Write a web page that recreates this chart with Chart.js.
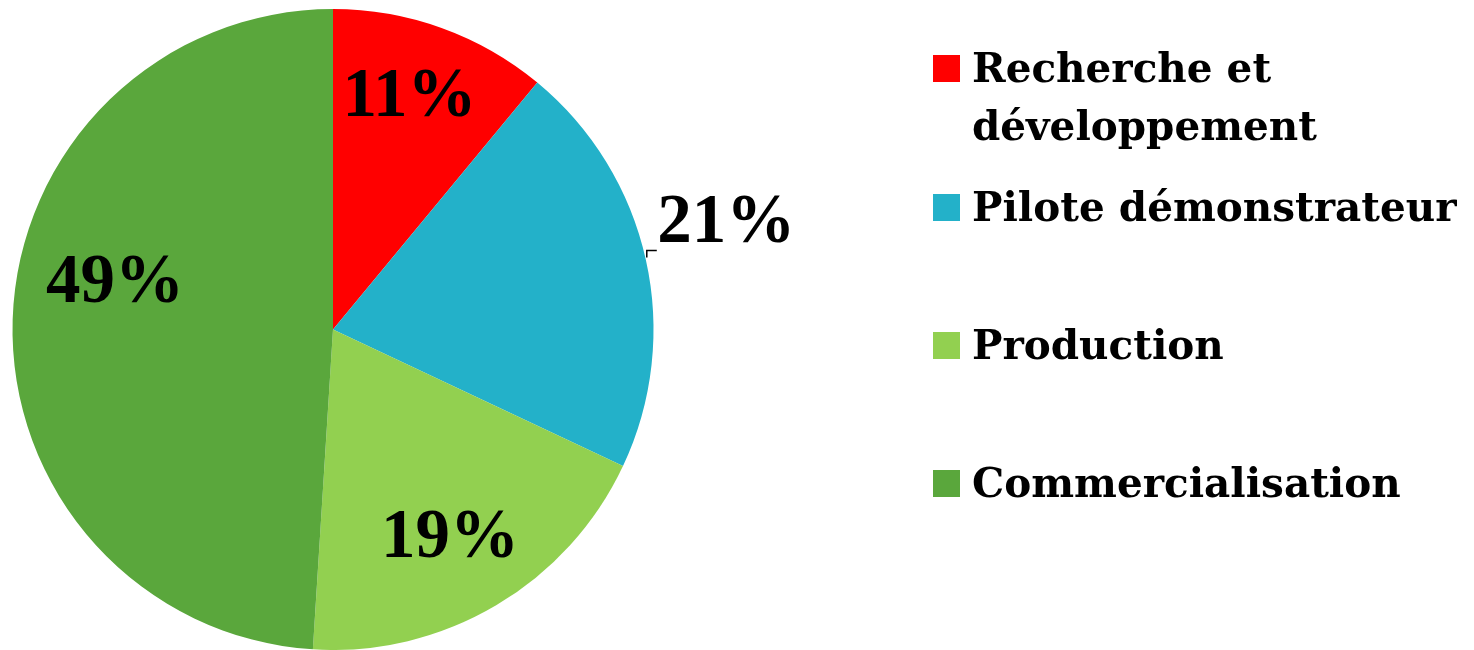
<!DOCTYPE html>
<html lang="fr">
<head>
<meta charset="utf-8">
<title>Répartition par phase</title>
<script src="https://cdn.jsdelivr.net/npm/chart.js@4"></script>
<style>
  html, body { margin: 0; padding: 0; background: #fff; }
  .wrap { position: relative; width: 1474px; height: 650px; }
  .legend { position: absolute; left: 933px; top: 0; list-style: none; margin: 0; padding: 0;
            font-family: "DejaVu Serif", "Liberation Serif", serif; font-weight: bold; font-size: 40.5px; color: #000; }
  .legend li { position: absolute; left: 0; display: flex; align-items: flex-start; white-space: nowrap; line-height: 58px; }
  .legend .box { width: 27px; height: 27px; margin-top: 16px; margin-right: 12px; flex: none; }
</style>
</head>
<body>
<div class="wrap">
  <canvas id="pie" width="1474" height="650"></canvas>
  <ul class="legend" id="legend"></ul>
</div>
<script>
/* Données du graphique */
const categories = ['Recherche et développement', 'Pilote démonstrateur', 'Production', 'Commercialisation'];
const legendLines = [['Recherche et', 'développement'], ['Pilote démonstrateur'], ['Production'], ['Commercialisation']];
const shares = [11, 21, 19, 49];
const colors = ['#ff0000', '#23b1c9', '#92d050', '#5aa73c'];

/* Placement des étiquettes (fraction du rayon, décalage angulaire en degrés) */
const labelPlace = [
  { frac: 0.76, deg: -1.5 },
  { frac: 1.27, deg: -2.4, leader: true },
  { frac: 0.75, deg: 1.5 },
  { frac: 0.695, deg: 10 }
];

/* Étiquettes de pourcentage dessinées sur le canvas */
const pctLabels = {
  id: 'pctLabels',
  afterDatasetsDraw(chart) {
    const { ctx } = chart;
    const meta = chart.getDatasetMeta(0);
    ctx.save();
    ctx.font = 'bold 69px "Liberation Serif", "DejaVu Serif", serif';
    ctx.fillStyle = '#000';
    ctx.textAlign = 'center';
    ctx.textBaseline = 'middle';
    meta.data.forEach((arc, i) => {
      const p = labelPlace[i];
      const mid = (arc.startAngle + arc.endAngle) / 2 + p.deg * Math.PI / 180;
      const r = arc.outerRadius * p.frac;
      const x = arc.x + Math.cos(mid) * r;
      const y = arc.y + Math.sin(mid) * r;
      ctx.fillText(shares[i] + '%', x, y);
      if (p.leader) {
        // petit trait de rappel
        const am = (arc.startAngle + arc.endAngle) / 2;
        const ex = arc.x + Math.cos(am) * arc.outerRadius;
        const ey = arc.y + Math.sin(am) * arc.outerRadius;
        ctx.beginPath();
        ctx.lineWidth = 1.5;
        ctx.strokeStyle = '#000';
        ctx.moveTo(ex + 1, ey - 2);
        ctx.lineTo(ex + 1, ey - 9);
        ctx.lineTo(ex + 11, ey - 9);
        ctx.stroke();
      }
    });
    ctx.restore();
  }
};

new Chart(document.getElementById('pie'), {
  type: 'pie',
  data: {
    labels: categories,
    datasets: [{ data: shares, backgroundColor: colors, borderWidth: 0 }]
  },
  options: {
    responsive: false,
    animation: false,
    layout: { padding: { left: 11, right: 819, top: 9, bottom: 0 } },
    plugins: { legend: { display: false }, tooltip: { enabled: false } }
  },
  plugins: [pctLabels]
});

/* Légende HTML */
const legendTops = [39, 178, 316, 454];
const ul = document.getElementById('legend');
categories.forEach((c, i) => {
  const li = document.createElement('li');
  li.style.top = legendTops[i] + 'px';
  li.innerHTML = `<span class="box" style="background:${colors[i]}"></span><span>${legendLines[i].join('<br>')}</span>`;
  ul.appendChild(li);
});
</script>
</body>
</html>
